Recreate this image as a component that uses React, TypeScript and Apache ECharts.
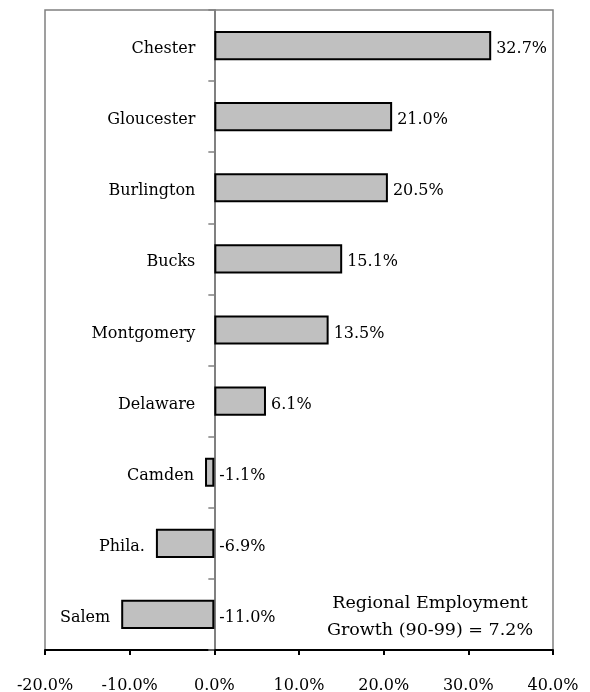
import React, { useEffect, useRef } from "react";
import * as echarts from "echarts";

const categories = ["Chester", "Gloucester", "Burlington", "Bucks", "Montgomery", "Delaware", "Camden", "Phila.", "Salem"];
const growth = [32.7, 21.0, 20.5, 15.1, 13.5, 6.1, -1.1, -6.9, -11.0];
const xTicks = { min: -20, max: 40, interval: 10 };
const noteLines = ["Regional Employment", "Growth (90-99) = 7.2%"];

const FONT = "DejaVu Serif";
const FS = 16;

export default function App() {
  const ref = useRef<HTMLDivElement>(null);
  useEffect(() => {
    const chart = echarts.init(ref.current!, null, { renderer: "svg" });
    chart.setOption({
      animation: false,
      grid: {
        left: 45, right: 37, top: 10, bottom: 42,
        show: true, borderColor: "#808080", borderWidth: 1.5,
      },
      xAxis: {
        type: "value",
        min: xTicks.min, max: xTicks.max, interval: xTicks.interval,
        axisLine: { show: true, onZero: false, lineStyle: { color: "#000", width: 2 } },
        axisTick: { show: true, length: 5, lineStyle: { color: "#000", width: 2 } },
        axisLabel: {
          margin: 26, color: "#000", fontFamily: FONT, fontSize: FS,
          formatter: (v: number) => v.toFixed(1) + "%",
        },
        splitLine: { show: false },
      },
      yAxis: {
        type: "category",
        data: categories,
        inverse: true,
        axisLine: { show: true, onZero: true, lineStyle: { color: "#808080", width: 2 } },
        axisTick: { show: true, length: 6, lineStyle: { color: "#808080", width: 1.5 } },
        axisLabel: { show: false },
        splitLine: { show: false },
      },
      series: [
        {
          type: "bar",
          data: growth,
          barWidth: "41%",
          itemStyle: { color: "#c0c0c0", borderColor: "#000", borderWidth: 2 },
          label: {
            show: true, position: "right", distance: 5, offset: [0, 2],
            color: "#000", fontFamily: FONT, fontSize: FS,
            formatter: (p: any) => p.value.toFixed(1) + "%",
          },
          z: 3,
        },
        {
          type: "bar",
          data: growth.map((v) => ({
            value: v,
            label: { distance: v >= 0 ? 19 : 11 },
          })),
          barWidth: "41%",
          barGap: "-100%",
          itemStyle: { color: "transparent" },
          label: {
            show: true, position: "left", offset: [0, 2],
            color: "#000", fontFamily: FONT, fontSize: FS,
            formatter: (p: any) => categories[p.dataIndex],
          },
          silent: true,
          z: 2,
        },
      ],
      graphic: [
        {
          type: "text",
          x: 430, y: 588,
          style: {
            text: noteLines.join("\n"),
            fontFamily: FONT, fontSize: 17.5, fill: "#000",
            align: "center", verticalAlign: "top", lineHeight: 27,
          },
        },
      ],
    });
    return () => chart.dispose();
  }, []);
  return <div ref={ref} style={{ position: "fixed", left: 0, top: 0, width: 590, height: 692 }} />;
}
